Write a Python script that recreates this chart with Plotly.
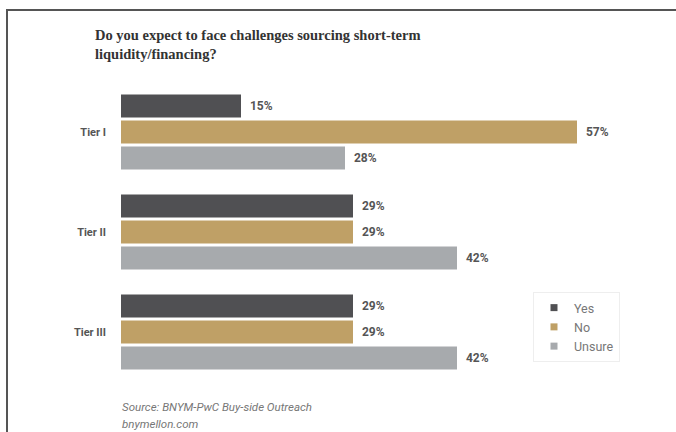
import plotly.graph_objects as go

tiers = ["Tier I", "Tier II", "Tier III"]
series_names = ["Yes", "No", "Unsure"]
yes_vals = [15, 29, 29]
no_vals = [57, 29, 29]
unsure_vals = [28, 42, 42]
colors = ["#505053", "#bfa066", "#a7aaad"]

title_text = "Do you expect to face challenges sourcing short-term<br>liquidity/financing?"
source_text = "Source: BNYM-PwC Buy-side Outreach"
site_text = "bnymellon.com"

W, H = 676, 432
ml, mr, mt, mb = 121, 35, 82, 50
pw = W - ml - mr
ph = H - mt - mb

def px_x(p):
    return (p - ml) / pw

def px_y(p):
    return (H - mb - p) / ph

fig = go.Figure()
for name, vals, col in zip(series_names, [yes_vals, no_vals, unsure_vals], colors):
    fig.add_trace(go.Bar(
        y=tiers, x=vals, orientation="h", name=name,
        marker=dict(color=col, line=dict(width=0)),
        text=vals, texttemplate="  %{x}%", textposition="outside",
        textfont=dict(family="Roboto", size=12, color="#555555", weight="bold"),
        cliponaxis=False, showlegend=False,
    ))
    fig.add_trace(go.Scatter(
        x=[None], y=[None], mode="markers", name=name,
        marker=dict(symbol="square", size=7, color=col),
        showlegend=True,
    ))

fig.update_layout(
    width=W, height=H,
    margin=dict(l=ml, r=mr, t=mt, b=mb),
    paper_bgcolor="white", plot_bgcolor="white",
    barmode="group", bargap=0.22, bargroupgap=0.12,
    title=dict(
        text=title_text,
        font=dict(family="Liberation Serif", size=14.5, color="#333333", weight="bold"),
        x=95 / W, xanchor="left", xref="container",
        y=1 - 40 / H, yanchor="top", yref="container",
    ),
    xaxis=dict(range=[0, 65], showgrid=False, zeroline=False, showticklabels=False,
               showline=False, fixedrange=True),
    yaxis=dict(categoryorder="array", categoryarray=tiers, autorange="reversed",
               showgrid=False, zeroline=False, showline=False,
               ticklabelstandoff=14,
               tickfont=dict(family="Roboto", size=11, color="#555555", weight="bold")),
    legend=dict(
        x=px_x(533), y=px_y(292), xanchor="left", yanchor="top",
        bgcolor="white", bordercolor="#eeeeee", borderwidth=1,
        font=dict(family="Roboto", size=12.5, color="#777777"),
        itemwidth=30, tracegroupgap=0,
    ),
    showlegend=True,
)

fig.add_annotation(text=source_text, xref="paper", yref="paper",
                   x=px_x(120), y=px_y(407), xanchor="left", yanchor="middle",
                   showarrow=False,
                   font=dict(family="Roboto", size=11.5, color="#777777", style="italic"))
fig.add_annotation(text=site_text, xref="paper", yref="paper",
                   x=px_x(120), y=px_y(424), xanchor="left", yanchor="middle",
                   showarrow=False,
                   font=dict(family="Roboto", size=11.5, color="#777777", style="italic"))

# frame lines (left and top)
fig.add_shape(type="line", xref="paper", yref="paper",
              x0=px_x(7), x1=px_x(7), y0=px_y(9), y1=px_y(440),
              line=dict(color="#555555", width=2))
fig.add_shape(type="line", xref="paper", yref="paper",
              x0=px_x(6), x1=px_x(690), y0=px_y(10), y1=px_y(10),
              line=dict(color="#555555", width=2))

fig.write_html("out.html")
